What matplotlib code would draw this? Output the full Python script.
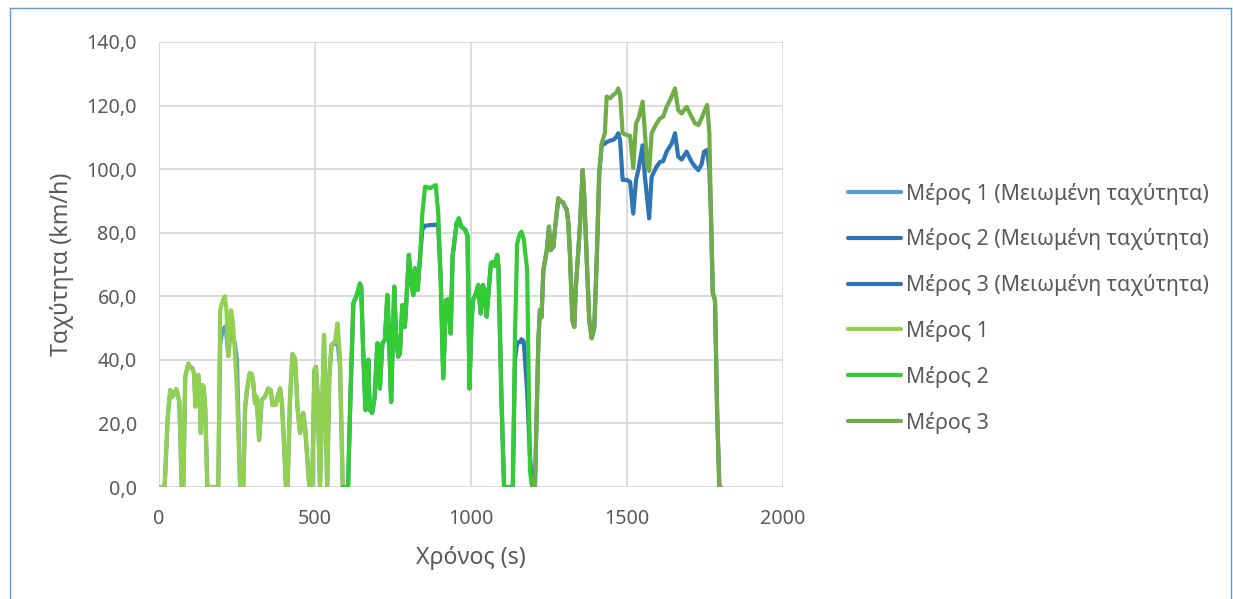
import numpy as np
import matplotlib
matplotlib.use("Agg")
import matplotlib.pyplot as plt
from matplotlib.lines import Line2D

plt.rcParams['font.family'] = ['Noto Sans', 'DejaVu Sans']

# Part 1 (0 - 589 s)
part1_t = [0, 18, 28, 36, 42, 48, 55, 60, 65, 73, 78, 84, 94, 100, 106, 112, 117, 122, 126, 130,
           134, 139, 143, 148, 155, 190, 196, 203, 211, 216, 222, 227, 231, 236, 243, 250, 260, 270,
           276, 282, 291, 297, 302, 308, 313, 321, 329, 340, 350, 358, 364, 374, 379, 388, 394, 400,
           407, 412, 420, 428, 436, 444, 452, 462, 468, 482, 491, 498, 503, 508, 516, 529, 539, 546,
           553, 564, 572, 580, 589]
part1_v = [0, 0, 22, 30.5, 28.3, 29, 30.8, 29, 27, 0, 0, 34.6, 38.8, 37.5, 37.5, 36, 25.3, 34, 35.2, 30,
           17, 32, 31.5, 25, 0, 0, 55.6, 58.3, 60, 56, 41.2, 50, 55.6, 52.4, 43, 30, 0, 0,
           25, 30.5, 35.8, 35.5, 33, 26.3, 28.4, 14.8, 27.4, 28.4, 31, 30.5, 25.8, 25.8, 28, 31, 26.3, 15,
           0, 0, 28, 41.8, 40.3, 25, 17, 23.3, 19.1, 0, 0, 36.8, 37.8, 30, 0, 47.8, 0, 35,
           44.7, 45.7, 51.5, 41, 0]
part1_red_v = [0, 0, 22, 30.5, 28.3, 29, 30.8, 29, 27, 0, 0, 34.6, 38.8, 37.5, 37.5, 36, 25.3, 34, 35.2, 30,
               17, 32, 31.5, 25, 0, 0, 45, 49, 50.4, 48, 41.2, 46, 48, 47.5, 45.3, 40, 0, 0,
               25, 30.5, 35.8, 35.5, 33, 26.3, 28.4, 14.8, 27.4, 28.4, 31, 30.5, 25.8, 25.8, 28, 31, 26.3, 15,
               0, 0, 28, 41.8, 40.3, 25, 17, 23.3, 19.1, 0, 0, 36.8, 37.8, 30, 0, 47.8, 0, 35,
               44.7, 45, 46, 38, 0]

# Part 2 (589 - 1196 s)
part2_t = [589, 606, 614, 623, 634, 644, 648, 655, 662, 671, 675, 683, 691, 700, 703, 708, 716, 724, 732,
           737, 744, 749, 754, 760, 767, 772, 780, 788, 792, 801, 806, 815, 820, 829, 837, 844, 853, 869,
           878, 887, 895, 903, 911, 920, 927, 935, 941, 954, 961, 968, 981, 989, 995, 1002, 1007, 1015,
           1023, 1031, 1038, 1043, 1050, 1056, 1064, 1070, 1077, 1084, 1088, 1098, 1106, 1134, 1141,
           1148, 1157, 1162, 1169, 1180, 1189, 1196]
part2_v = [0, 0, 30, 57.8, 60.4, 64, 63, 41, 24.2, 40, 24.4, 23.3, 28, 45.2, 44.5, 31, 45.2, 46.2, 60.4,
           48, 26.8, 45, 63, 47, 41, 42, 57.2, 50.4, 57, 73, 66, 60.4, 68.8, 62, 72.5, 86, 94.5, 94,
           94.5, 95, 86, 65, 34.2, 58.8, 59, 48.3, 72.5, 83, 84.5, 82, 81, 79, 31, 52.5, 59, 60.5,
           63.5, 54.6, 63.5, 62, 53.6, 61, 70.4, 70.8, 69.5, 73, 69, 26.3, 0, 0, 47.3,
           76.6, 79.8, 80.3, 78, 68.3, 5, 0]
part2_red_v = [0, 0, 30, 57.8, 60.4, 64, 63, 41, 24.2, 40, 24.4, 23.3, 28, 45.2, 44.5, 31, 45.2, 46.2, 60.4,
               48, 26.8, 45, 63, 47, 41, 42, 57.2, 50.4, 57, 73, 66, 60.4, 68.8, 62, 72.5, 81, 82.2, 82.4,
               82.4, 82.6, 82, 65, 34.2, 58.8, 59, 48.3, 72.5, 83, 84.5, 82, 81, 79, 31, 52.5, 59, 60.5,
               63.5, 54.6, 63.5, 62, 53.6, 61, 70.4, 70.8, 69.5, 73, 69, 26.3, 0, 0, 40,
               45.5, 45.5, 46.5, 45.8, 30, 10, 0]

# Part 3 (1196 - 1800 s)
part3_t = [1196, 1205, 1216, 1221, 1226, 1232, 1243, 1250, 1255, 1264, 1270, 1280, 1287, 1294, 1307,
           1312, 1317, 1325, 1331, 1336, 1342, 1349, 1358, 1363, 1371, 1379, 1387, 1395, 1403, 1411,
           1419, 1429, 1435, 1446, 1456, 1465, 1472, 1478, 1486, 1499, 1510, 1520, 1529, 1537, 1550,
           1557, 1565, 1571, 1579, 1595, 1606, 1616, 1627, 1643, 1654, 1664, 1675, 1691, 1707, 1718,
           1729, 1739, 1747, 1757, 1764, 1769, 1775, 1782, 1789, 1796, 1800]
part3_v = [0, 0, 46.2, 55.7, 53.4, 68.3, 74.5, 81.9, 74.5, 75.6, 82, 90.8, 89.7, 89.7, 87.1,
           83, 73.5, 52.5, 50.4, 63, 71.4, 81.9, 99.7, 91.3, 71.4, 52.5, 46.8, 50, 71.4, 98.7,
           108.1, 111.3, 122.8, 122.3, 123.3, 124, 125.4, 123.5, 111.3, 110.7, 110.5, 100.3, 114.4, 116, 121.2,
           112, 100.8, 99.4, 111.3, 114.4, 116, 116.5, 119.6, 122.8, 125.4, 118.6, 117.5, 119.6, 116.5, 114.4,
           113.9, 116, 118, 120.2, 111.3, 86.1, 61, 58.8, 23.2, 0, 0]
part3_red_v = [0, 0, 46.2, 55.7, 53.4, 68.3, 74.5, 81.9, 74.5, 75.6, 82, 90.8, 89.7, 89.7, 87.1,
               83, 73.5, 52.5, 50.4, 63, 71.4, 81.9, 99.7, 91.3, 71.4, 52.5, 46.8, 50, 71.4, 98.7,
               107.5, 108, 108.5, 109, 109.2, 110, 111.3, 109, 96.6, 96.6, 96, 86, 96.6, 100, 107.5,
               98, 90.3, 84.5, 97.6, 100.8, 102.3, 102.5, 105.5, 108, 111.3, 104, 103, 105.5, 102.3, 100.8,
               99.7, 101.5, 105.5, 106, 100, 86.1, 61, 58.8, 23.2, 0, 0]

labels = ['Μέρος 1 (Μειωμένη ταχύτητα)', 'Μέρος 2 (Μειωμένη ταχύτητα)', 'Μέρος 3 (Μειωμένη ταχύτητα)',
          'Μέρος 1', 'Μέρος 2', 'Μέρος 3']
colors = ['#5B9BD5', '#2E75B6', '#2E75B6', '#92D050', '#33CC33', '#70AD47']

fig = plt.figure(figsize=(12.33, 5.99), dpi=100)
ax = fig.add_axes([159/1233, 1 - 487/599, (783-159)/1233, (487-42)/599])

series = [(part1_t, part1_red_v), (part2_t, part2_red_v), (part3_t, part3_red_v),
          (part1_t, part1_v), (part2_t, part2_v), (part3_t, part3_v)]
for (t, v), lab, c in zip(series, labels, colors):
    ax.plot(t, v, color=c, lw=3.0, label=lab, solid_capstyle='round', solid_joinstyle='round')

ax.set_xlim(0, 2000)
ax.set_ylim(0, 140)
ax.set_xticks(np.arange(0, 2001, 500))
ax.set_yticks(np.arange(0, 141, 20))
ax.set_yticklabels([f'{y:.1f}'.replace('.', ',') for y in np.arange(0, 141, 20)])
ax.grid(True, color='#D9D9D9', lw=1.3)
ax.set_axisbelow(True)
for s in ax.spines.values():
    s.set_visible(False)
ax.tick_params(length=0, labelsize=14.2, colors='#595959', pad=16)
ax.set_xlabel('Χρόνος (s)', fontsize=16.7, color='#595959', labelpad=12)
ax.set_ylabel('Ταχύτητα (km/h)', fontsize=16.7, color='#595959', labelpad=9)

leg = fig.legend(loc='center left', bbox_to_anchor=(848/1233, 1 - 308/599), frameon=False,
                 fontsize=15.3, handlelength=2.5, handletextpad=0.25, labelspacing=1.12,
                 borderpad=0, borderaxespad=0)
for txt in leg.get_texts():
    txt.set_color('#595959')

# chart border
border = '#5B9BD5'
fig.add_artist(Line2D([10/1233, 10/1233], [0, 1 - 8/599], color=border, lw=1))
fig.add_artist(Line2D([10/1233, 1231/1233], [1 - 8/599, 1 - 8/599], color=border, lw=1))
fig.add_artist(Line2D([1231/1233, 1231/1233], [0, 1 - 8/599], color=border, lw=1))

fig.savefig('out.png', dpi=100)
